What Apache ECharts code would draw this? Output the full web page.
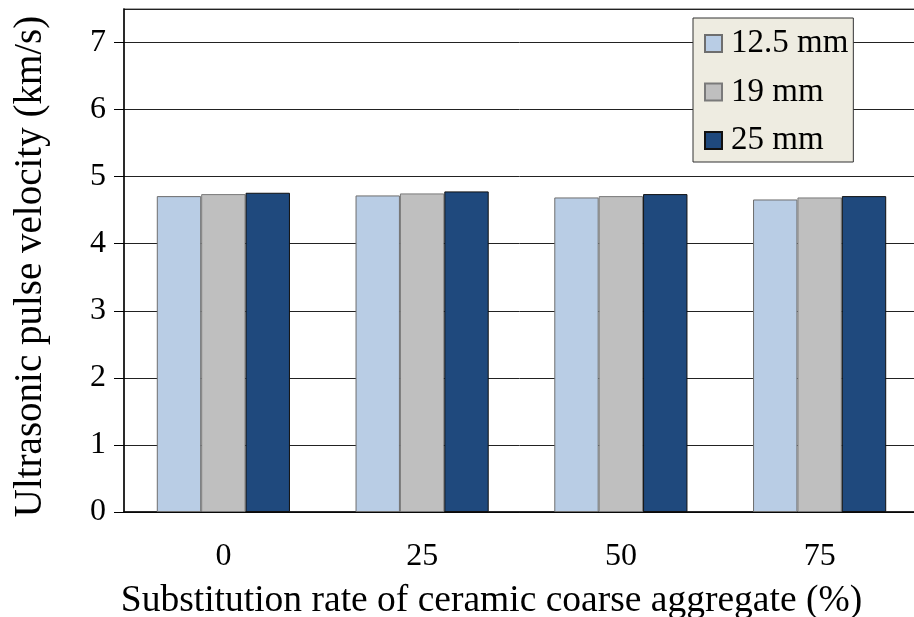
<!DOCTYPE html>
<html>
<head>
<meta charset="utf-8">
<script src="https://cdn.jsdelivr.net/npm/echarts@6/dist/echarts.min.js"></script>
<style>
  html, body { margin: 0; padding: 0; background: #fff; }
  #chart { width: 914px; height: 617px; }
</style>
</head>
<body>
<div id="chart"></div>
<script>
const categories = ['0', '25', '50', '75']
const seriesNames = ['12.5 mm', '19 mm', '25 mm']
const upv125 = [4.71, 4.72, 4.69, 4.66]
const upv19 = [4.74, 4.75, 4.71, 4.69]
const upv25 = [4.76, 4.78, 4.74, 4.71]
const seriesColors = ['#b9cde5', '#bfbfbf', '#1f497d']
const seriesBorders = ['#6e6e6e', '#7a7a7a', '#111111']

const font = 'Liberation Serif'
const chart = echarts.init(document.getElementById('chart'))

const values = [upv125, upv19, upv25]
const series = values.map((v, i) => ({
  name: seriesNames[i],
  type: 'bar',
  data: v,
  barGap: '0%',
  barCategoryGap: '33%',
  itemStyle: {
    color: seriesColors[i],
    borderColor: seriesBorders[i],
    borderWidth: 1
  }
}))

chart.setOption({
  animation: false,
  grid: {
    left: 124,
    right: -5,
    top: 9,
    bottom: 105,
    outerBoundsMode: 'none',
    containLabel: false,
    show: true,
    borderColor: '#8a8a8a',
    borderWidth: 1.5
  },
  legend: {
    orient: 'vertical',
    left: 693,
    top: 18,
    padding: [9, 5, 5, 11],
    icon: 'rect',
    itemWidth: 17,
    itemHeight: 17,
    itemGap: 15.5,
    backgroundColor: '#eeece1',
    borderColor: '#333',
    borderWidth: 1,
    textStyle: {
      fontFamily: font,
      fontSize: 33,
      color: '#000',
      padding: [0, 0, 0, 4]
    },
    data: seriesNames
  },
  xAxis: {
    type: 'category',
    data: categories,
    name: 'Substitution rate of ceramic coarse aggregate (%)',
    nameLocation: 'middle',
    nameGap: 70,
    nameTextStyle: {
      fontFamily: font,
      fontSize: 37.5,
      color: '#000',
      padding: [0, 60, 0, 0]
    },
    axisLine: { lineStyle: { color: '#000', width: 1.5 } },
    axisTick: { length: 10, lineStyle: { color: '#808080', width: 1.5 } },
    axisLabel: {
      fontFamily: font,
      fontSize: 32,
      color: '#000',
      margin: 29
    }
  },
  yAxis: {
    type: 'value',
    min: 0,
    max: 7.5,
    interval: 1,
    name: 'Ultrasonic pulse velocity (km/s)',
    nameLocation: 'middle',
    nameGap: 74,
    nameTextStyle: {
      fontFamily: font,
      fontSize: 39,
      color: '#000',
      padding: [0, 12, 0, 0]
    },
    axisLine: { show: true, lineStyle: { color: '#000', width: 1.5 } },
    axisTick: { show: true, length: 10, lineStyle: { color: '#000' } },
    axisLabel: {
      fontFamily: font,
      fontSize: 32,
      color: '#000',
      margin: 18,
      showMaxLabel: false
    },
    splitLine: { lineStyle: { color: '#222', width: 1 } }
  },
  series: series
})
</script>
</body>
</html>
